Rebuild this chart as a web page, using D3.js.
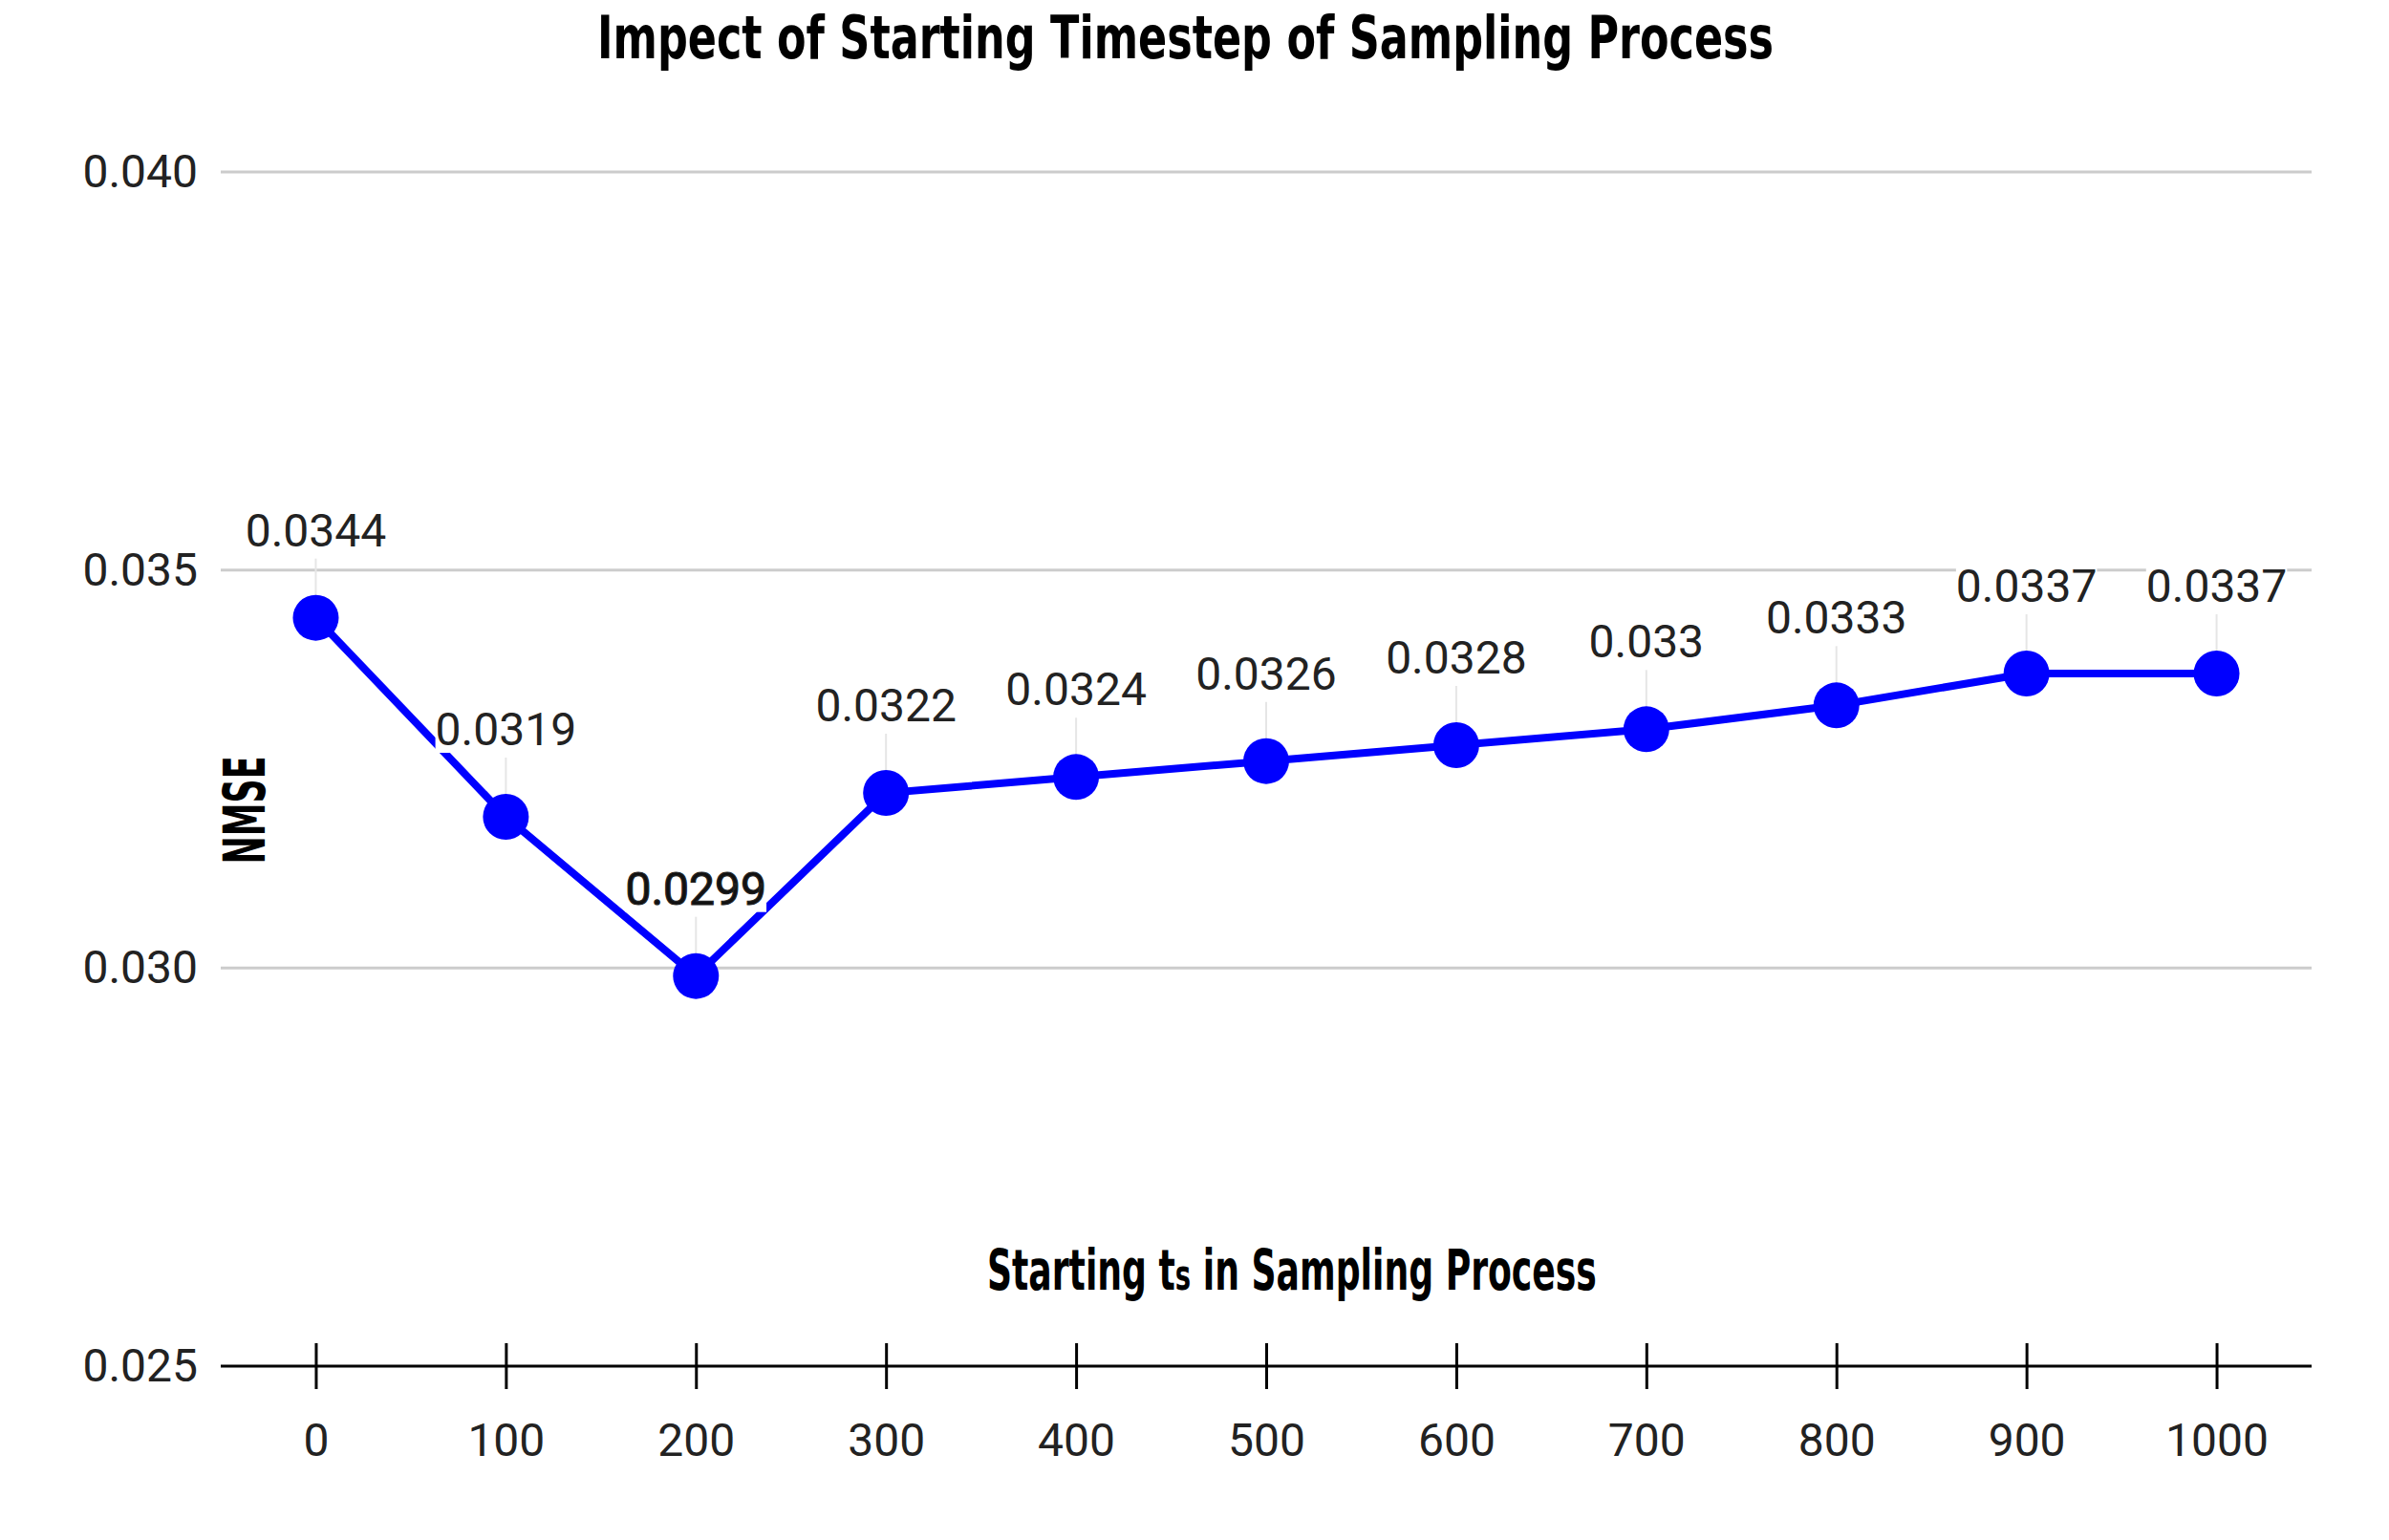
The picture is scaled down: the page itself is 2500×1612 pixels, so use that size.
<!DOCTYPE html>
<html>
<head>
<meta charset="utf-8">
<script src="https://cdn.jsdelivr.net/npm/d3@7"></script>
<style>
  html, body { margin: 0; padding: 0; background: #fff; }
  svg { display: block; }
</style>
</head>
<body>
<svg id="chart" width="2500" height="1612"></svg>
<script>
const timesteps = [0, 100, 200, 300, 400, 500, 600, 700, 800, 900, 1000];
const nmse = [0.0344, 0.0319, 0.0299, 0.0322, 0.0324, 0.0326, 0.0328, 0.033, 0.0333, 0.0337, 0.0337];
const valueLabels = ["0.0344", "0.0319", "0.0299", "0.0322", "0.0324", "0.0326", "0.0328", "0.033", "0.0333", "0.0337", "0.0337"];
const yTicks = [0.025, 0.030, 0.035, 0.040];
const xTicks = [0, 100, 200, 300, 400, 500, 600, 700, 800, 900, 1000];
const titleText = "Impect of Starting Timestep of Sampling Process";
const yTitle = "NMSE";
const xTitleParts = [
  { text: "Starting t", size: 58 },
  { text: "s", size: 44 },
  { text: "\u00A0in Sampling Process", size: 58 }
];

const svg = d3.select("#chart");
const x = d3.scaleLinear().domain([-50, 1050]).range([231, 2419]);
const y = d3.scaleLinear().domain([0.025, 0.040]).range([1430, 180]);

const numFont = "Roboto, 'Liberation Sans', sans-serif";
const headFont = "'DejaVu Sans', sans-serif";

// title
svg.append("text")
  .attr("x", 625).attr("y", 61)
  .attr("font-family", headFont).attr("font-weight", "bold")
  .attr("font-size", 62)
  .attr("textLength", 1231).attr("lengthAdjust", "spacingAndGlyphs")
  .attr("fill", "#000")
  .text(titleText);

// gridlines
svg.append("g").selectAll("line")
  .data(yTicks.filter(d => d !== 0.025))
  .join("line")
  .attr("x1", x.range()[0]).attr("x2", x.range()[1])
  .attr("y1", d => y(d)).attr("y2", d => y(d))
  .attr("stroke", "#cccccc").attr("stroke-width", 3);

// y axis labels
const yAxis = d3.axisLeft(y).tickValues(yTicks).tickFormat(d3.format(".3f")).tickSize(0).tickPadding(24);
const gy = svg.append("g").attr("transform", `translate(${x.range()[0]},0)`).call(yAxis);
gy.select(".domain").remove();
gy.selectAll("text").attr("font-family", numFont).attr("font-size", 48).attr("fill", "#222");

// x axis
const xAxis = d3.axisBottom(x).tickValues(xTicks).tickFormat(d3.format("d")).tickSize(24).tickPadding(36);
const gx = svg.append("g").attr("transform", `translate(0,${y(0.025)})`).call(xAxis);
gx.select(".domain").attr("stroke", "#000").attr("stroke-width", 3)
  .attr("d", `M${x.range()[0]},0H${x.range()[1]}`);
gx.selectAll(".tick line").attr("y1", -24).attr("y2", 24).attr("stroke", "#000").attr("stroke-width", 3);
gx.selectAll("text").attr("font-family", numFont).attr("font-size", 48).attr("fill", "#222");

// x axis title as separate pieces in a horizontally compressed group
const xtG = svg.append("g");
const pieces = xTitleParts.map(p => xtG.append("text")
  .attr("font-family", headFont).attr("font-weight", "bold")
  .attr("font-size", p.size).attr("fill", "#000")
  .attr("y", 0).text(p.text));
const natural = pieces.map(t => t.node().getComputedTextLength());
let cx = 0;
pieces.forEach((t, i) => { t.attr("x", cx); cx += natural[i]; });
const scaleF = 638 / cx;
xtG.attr("transform", `translate(1033,1350) scale(${scaleF},1)`);

// y axis title
svg.append("text")
  .attr("transform", "translate(277,848) rotate(-90)")
  .attr("text-anchor", "middle")
  .attr("font-family", headFont).attr("font-weight", "bold")
  .attr("font-size", 60)
  .attr("textLength", 113).attr("lengthAdjust", "spacingAndGlyphs")
  .attr("fill", "#000")
  .text(yTitle);

const pts = timesteps.map((t, i) => ({ t, v: nmse[i], label: valueLabels[i] }));

// leader lines
svg.append("g").selectAll("line")
  .data(pts).join("line")
  .attr("x1", d => x(d.t)).attr("x2", d => x(d.t))
  .attr("y1", d => y(d.v) - 62).attr("y2", d => y(d.v) - 20)
  .attr("stroke", "#e6e6e6").attr("stroke-width", 2);

// line
svg.append("path")
  .datum(pts)
  .attr("fill", "none").attr("stroke", "#0000ff").attr("stroke-width", 8)
  .attr("d", d3.line().x(d => x(d.t)).y(d => y(d.v)));

// points
svg.append("g").selectAll("circle")
  .data(pts).join("circle")
  .attr("cx", d => x(d.t)).attr("cy", d => y(d.v)).attr("r", 24)
  .attr("fill", "#0000ff");

// value labels with white boxes
const lg = svg.append("g");
pts.forEach(d => {
  const g = lg.append("g");
  const t = g.append("text")
    .attr("x", x(d.t)).attr("y", y(d.v) - 75)
    .attr("text-anchor", "middle")
    .attr("font-family", numFont).attr("font-size", 48)
    .attr("fill", "#222")
    .text(d.label);
  if (d.t === 200) t.attr("stroke", "#222").attr("stroke-width", 1.2).attr("fill", "#111");
  const b = t.node().getBBox();
  g.insert("rect", "text")
    .attr("x", b.x).attr("y", b.y + 6).attr("width", b.width).attr("height", b.height - 10)
    .attr("fill", "#fff");
});
</script>
</body>
</html>
